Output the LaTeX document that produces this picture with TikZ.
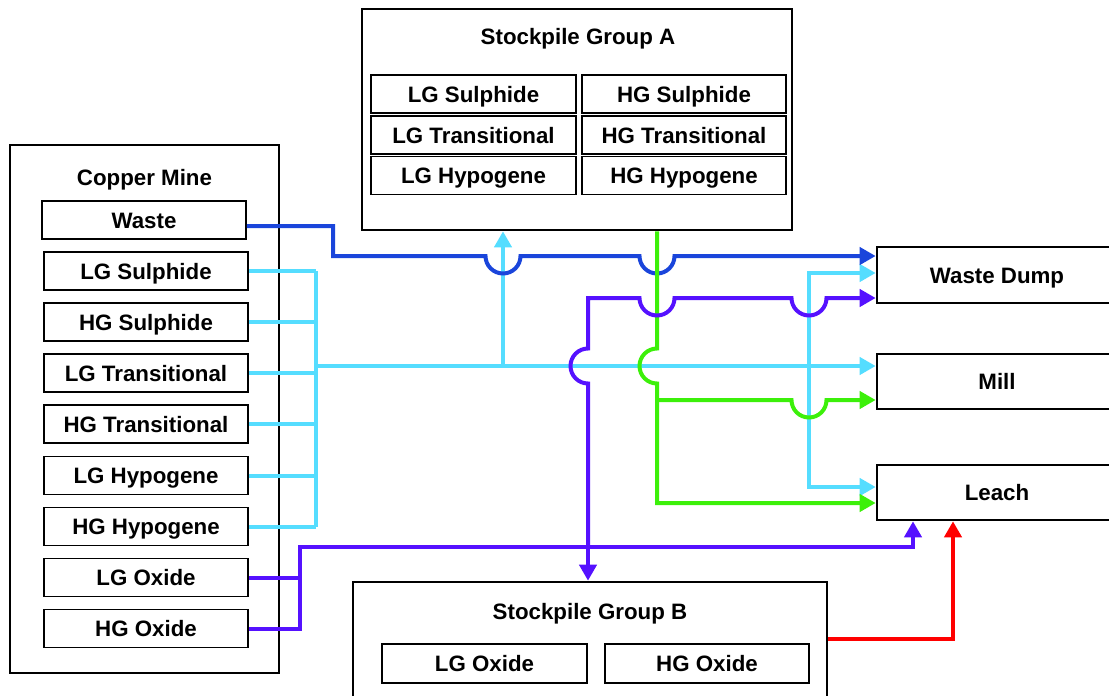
\documentclass[tikz,border=0pt]{standalone}
\usepackage{fontspec}
\setmainfont{Liberation Sans}
\usetikzlibrary{arrows.meta}
\definecolor{cBlue}{HTML}{1A45DB}
\definecolor{cCyan}{HTML}{55DDFF}
\definecolor{cGreen}{HTML}{3CF00A}
\definecolor{cViolet}{HTML}{5511FF}
\definecolor{cRed}{HTML}{FF0000}
\begin{document}
\begin{tikzpicture}[x=1pt,y=-1pt,
  every node/.style={font=\fontsize{22.3}{26}\selectfont\bfseries, inner sep=0pt, text height=16pt, text depth=0pt},
  groupbox/.style={draw, line width=2.6pt, rectangle},
  itembox/.style={draw, line width=1.6pt, rectangle, minimum height=38pt},
  flowline/.style={line width=4pt},
  flowarrow/.style={line width=4pt, -{Triangle[length=16pt,width=17pt]}},
]
\useasboundingbox (0,0) rectangle (1109,696);
\clip (0,0) rectangle (1109,696);

% Copper Mine
\node[groupbox, minimum width=269pt, minimum height=528pt] (mine) at (144.5,409) {};
\node (minetitle) at (144.5,177) {Copper Mine};
\node[itembox, minimum width=204pt] (waste) at (144,220) {Waste};
\node[itembox, minimum width=204pt] (lgs) at (146,271) {LG Sulphide};
\node[itembox, minimum width=204pt] (hgs) at (146,322) {HG Sulphide};
\node[itembox, minimum width=204pt] (lgt) at (146,373) {LG Transitional};
\node[itembox, minimum width=204pt] (hgt) at (146,424) {HG Transitional};
\node[itembox, minimum width=204pt] (lgh) at (146,475.5) {LG Hypogene};
\node[itembox, minimum width=204pt] (hgh) at (146,526.5) {HG Hypogene};
\node[itembox, minimum width=204pt] (lgo) at (146,577.5) {LG Oxide};
\node[itembox, minimum width=204pt] (hgo) at (146,628.5) {HG Oxide};

% Stockpile Group A
\node[groupbox, minimum width=430pt, minimum height=221pt] (sa) at (577,119.5) {};
\node (satitle) at (578,37) {Stockpile Group A};
\node[itembox, minimum width=205pt] (salgs) at (473.5,94) {LG Sulphide};
\node[itembox, minimum width=205pt] (salgt) at (473.5,135) {LG Transitional};
\node[itembox, minimum width=205pt] (salgh) at (473.5,175.5) {LG Hypogene};
\node[itembox, minimum width=204pt] (sahgs) at (684,94) {HG Sulphide};
\node[itembox, minimum width=204pt] (sahgt) at (684,135) {HG Transitional};
\node[itembox, minimum width=204pt] (sahgh) at (684,175.5) {HG Hypogene};

% Stockpile Group B
\node[groupbox, minimum width=474pt, minimum height=148pt] (sb) at (590,656) {};
\node (sbtitle) at (590,611) {Stockpile Group B};
\node[itembox, minimum width=205pt, minimum height=39pt] (sblgo) at (484.5,663.5) {LG Oxide};
\node[itembox, minimum width=204pt, minimum height=39pt] (sbhgo) at (707,663.5) {HG Oxide};

% Destinations
\node[groupbox, minimum width=240pt, minimum height=56pt] (wd) at (997,275) {Waste Dump};
\node[groupbox, minimum width=240pt, minimum height=55pt] (mill) at (997,381.5) {Mill};
\node[groupbox, minimum width=240pt, minimum height=55pt] (leach) at (997,492.5) {Leach};

% Cyan flows
\coordinate (cbus) at (316,366);
\coordinate (cup) at (503,366);
\coordinate (cright) at (809,366);
\foreach \n in {lgs,hgs,lgt,hgt,lgh,hgh}
  \draw[flowline, cCyan] (\n.east) -- (\n.east -| cbus);
\draw[flowline, cCyan] (lgs.east -| cbus) -- (hgh.east -| cbus);
\draw[flowarrow, cCyan] (cbus) -- (mill.west |- cbus);
\draw[flowarrow, cCyan] (cup) -- (sa.south -| cup);
\draw[flowarrow, cCyan] (cright) |- (wd.west |- 0,273);
\draw[flowarrow, cCyan] (cright) |- (leach.west |- 0,487);

% Blue (waste)
\draw[flowarrow, cBlue] ([yshift=-6pt]waste.east) -| (333,256) -- (485.5,256)
  arc[start angle=180, end angle=360, radius=17.5pt] -- (639.5,256)
  arc[start angle=180, end angle=360, radius=17.5pt] -- (wd.west |- 0,256);

% Green (from Stockpile A)
\draw[flowarrow, cGreen] (sa.south -| 657,0) -- (657,348.5)
  arc[start angle=90, end angle=270, radius=17.5pt] -- (657,503) -- (leach.west |- 0,503);
\draw[flowarrow, cGreen] (657,400) -- (791.5,400)
  arc[start angle=180, end angle=360, radius=17.5pt] -- (mill.west |- 0,400);

% Violet (oxides)
\draw[flowline, cViolet] (lgo.east) -- (lgo.east -| 300,0);
\draw[flowarrow, cViolet] (hgo.east) -| (300,547) -| (leach.south -| 913,0);
\draw[flowarrow, cViolet] (588,547) -- (sb.north -| 588,0);
\draw[flowarrow, cViolet] (588,547) -- (588,383.5)
  arc[start angle=270, end angle=90, radius=17.5pt] -- (588,298) -- (639.5,298)
  arc[start angle=180, end angle=360, radius=17.5pt] -- (791.5,298)
  arc[start angle=180, end angle=360, radius=17.5pt] -- (wd.west |- 0,298);

% Red (Stockpile B to Leach)
\draw[flowarrow, cRed] (sb.east |- 0,639) -| (leach.south -| 953,0);
\end{tikzpicture}
\end{document}
